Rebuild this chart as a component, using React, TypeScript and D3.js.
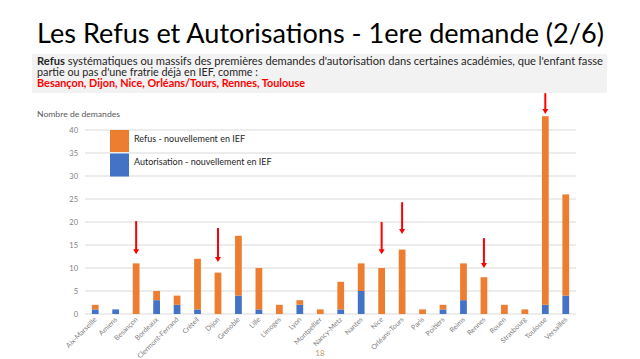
import React from "react";
import * as d3 from "d3";

const categories = [
  "Aix-Marseille", "Amiens", "Besançon", "Bordeaux", "Clermont-Ferrand", "Créteil",
  "Dijon", "Grenoble", "Lille", "Limoges", "Lyon", "Montpellier", "Nancy-Metz",
  "Nantes", "Nice", "Orléans-Tours", "Paris", "Poitiers", "Reims", "Rennes",
  "Rouen", "Strasbourg", "Toulouse", "Versailles",
];
const autorisation = [1, 1, 0, 3, 2, 1, 0, 4, 1, 0, 2, 0, 1, 5, 0, 0, 0, 1, 3, 0, 0, 0, 2, 4];
const refus = [1, 0, 11, 2, 2, 11, 9, 13, 9, 2, 1, 1, 6, 6, 10, 14, 1, 1, 8, 8, 2, 1, 41, 22];
const yTicks = [0, 5, 10, 15, 20, 25, 30, 35, 40];
const seriesNames = ["Refus - nouvellement en IEF", "Autorisation - nouvellement en IEF"];
// red arrows: category, tail value, tip value (in chart units)
const arrowCats = ["Besançon", "Dijon", "Nice", "Orléans-Tours", "Rennes", "Toulouse"];
const arrowTail = [20.2, 18.7, 20.0, 24.3, 16.5, 48.0];
const arrowTip = [13.0, 11.3, 13.0, 17.4, 10.0, 43.5];

const ORANGE = "#ED7D31";
const BLUE = "#4472C4";
const FONT = "Lato, 'Open Sans', sans-serif";

export default function App() {
  const W = 640, H = 359;
  const x = d3.scaleBand<string>().domain(categories).range([85, 576]).paddingInner(0.67).paddingOuter(0.335);
  const xc = d3.scaleBand<string>().domain(categories).range([85, 576]);
  const y = d3.scaleLinear().domain([0, 40]).range([314, 130]);

  const table = categories.map((c, i) => ({ cat: c, aut: autorisation[i], ref: refus[i] }));
  const stack = d3.stack<any>().keys(["aut", "ref"])(table);
  const colors: Record<string, string> = { aut: BLUE, ref: ORANGE };

  const center = (c: string) => (xc(c) as number) + xc.bandwidth() / 2;

  return (
    <svg width={W} height={H} style={{ position: "absolute", left: 0, top: 0, background: "#fff" }}>
      {/* title */}
      <text x={37} y={43} fontFamily={FONT} fontSize={27} fill="#000" textLength={567} lengthAdjust="spacingAndGlyphs">
        Les Refus et Autorisations - 1ere demande (2/6)
      </text>
      {/* text box */}
      <rect x={32} y={54} width={575} height={39} fill="#f2f2f2" />
      <text x={37} y={65} fontFamily={FONT} fontSize={10.5} fill="#262626" textLength={566} lengthAdjust="spacingAndGlyphs">
        <tspan fontWeight="bold">Refus</tspan> systématiques ou massifs des premières demandes d'autorisation dans certaines académies, que l'enfant fasse
      </text>
      <text x={37} y={75.5} fontFamily={FONT} fontSize={10.5} fill="#262626" textLength={221} lengthAdjust="spacingAndGlyphs">
        partie ou pas d'une fratrie déjà en IEF, comme :
      </text>
      <text x={37} y={86.5} fontFamily={FONT} fontSize={10.5} fontWeight="bold" fill="#ff0000" textLength={268} lengthAdjust="spacingAndGlyphs">
        Besançon, Dijon, Nice, Orléans/Tours, Rennes, Toulouse
      </text>

      {/* axis title */}
      <text x={37} y={117} fontFamily={FONT} fontSize={8} fill="#595959" textLength={83} lengthAdjust="spacingAndGlyphs">Nombre de demandes</text>

      {/* gridlines and y labels */}
      {yTicks.map((t) => (
        <g key={t}>
          <line x1={85} x2={576} y1={y(t)} y2={y(t)} stroke="#d9d9d9" strokeWidth={1} />
          <text x={78} y={y(t)} dy="0.35em" textAnchor="end" fontFamily={FONT} fontSize={7.5} fill="#7f7f7f">{t}</text>
        </g>
      ))}

      {/* bars */}
      {stack.map((s) => (
        <g key={s.key} fill={colors[s.key]}>
          {s.map((d, i) =>
            d[1] - d[0] > 0 ? (
              <rect key={i} x={x(categories[i])} width={x.bandwidth()} y={y(d[1])} height={y(d[0]) - y(d[1])} />
            ) : null
          )}
        </g>
      ))}

      {/* x labels */}
      {categories.map((c) => (
        <text key={c} transform={`translate(${center(c) + 2},${320}) rotate(-45)`} textAnchor="end"
          fontFamily={FONT} fontSize={7} fill="#7f7f7f">{c}</text>
      ))}

      {/* legend */}
      <rect x={110} y={130} width={19} height={22} fill={ORANGE} />
      <rect x={110} y={153.5} width={19} height={23} fill={BLUE} />
      <text x={134} y={139} dy="0.35em" fontFamily={FONT} fontSize={9} fill="#262626">{seriesNames[0]}</text>
      <text x={134} y={161.5} dy="0.35em" fontFamily={FONT} fontSize={9} fill="#262626">{seriesNames[1]}</text>

      {/* red arrows */}
      {arrowCats.map((c, i) => {
        const cx = center(c);
        const y0 = y(arrowTail[i]);
        const y1 = y(arrowTip[i]);
        return (
          <g key={c}>
            <line x1={cx} x2={cx} y1={y0} y2={y1 - 4} stroke="#ff0000" strokeWidth={2} />
            <path d={`M${cx - 3},${y1 - 5} L${cx + 3},${y1 - 5} L${cx},${y1} Z`} fill="#ff0000" />
          </g>
        );
      })}

      {/* page number */}
      <text x={320} y={356} textAnchor="middle" fontFamily={FONT} fontSize={8} fill="#c09a70">18</text>
    </svg>
  );
}
